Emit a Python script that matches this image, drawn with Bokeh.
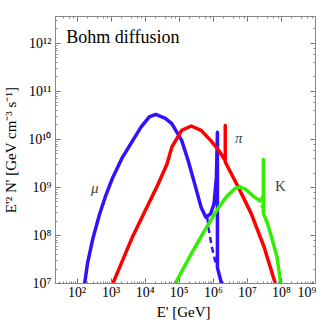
import numpy as np
from bokeh.plotting import figure
from bokeh.models import LogAxis, Range1d, CustomJSTickFormatter, Label
from bokeh.embed import file_html
from bokeh.resources import INLINE

# values (log10 of E' [GeV] and log10 of E'^2 N')
mu_logE = [2.22, 2.31, 2.46, 2.65, 2.84, 3.03, 3.31, 3.60, 3.88, 4.12, 4.31, 4.59, 4.78, 5.07, 5.26, 5.45, 5.64, 5.78, 5.92, 6.02, 6.09, 6.12, 6.12, 6.24]
mu_logY = [7.00, 7.44, 7.93, 8.42, 8.83, 9.18, 9.60, 9.94, 10.26, 10.47, 10.52, 10.44, 10.33, 9.98, 9.56, 9.08, 8.59, 8.38, 8.45, 8.66, 9.22, 10.15, 7.33, 7.00]
mu_dash_logE = [5.82, 5.86, 5.95, 6.07, 6.12]
mu_dash_logY = [8.38, 8.15, 7.78, 7.42, 7.33]

pi_logE = [3.05, 3.31, 3.60, 3.98, 4.36, 4.64, 4.78, 5.07, 5.35, 5.64, 5.92, 6.16, 6.35, 6.35, 6.35, 6.73, 7.11, 7.49, 7.82]
pi_logY = [7.00, 7.44, 7.93, 8.49, 9.04, 9.49, 9.84, 10.19, 10.28, 10.19, 9.98, 9.77, 9.56, 10.29, 9.53, 9.01, 8.46, 7.76, 7.00]

k_logE = [4.88, 5.30, 5.69, 6.16, 6.40, 6.64, 6.78, 6.95, 7.21, 7.35, 7.42, 7.47, 7.47, 7.47, 7.58, 7.68, 7.87, 7.98]
k_logY = [7.00, 7.55, 8.04, 8.59, 8.82, 8.98, 9.01, 8.96, 8.80, 8.73, 8.76, 8.83, 9.58, 8.46, 8.27, 8.04, 7.55, 7.00]
k_dash_logE = [7.35, 7.41, 7.47]
k_dash_logY = [8.73, 8.60, 8.46]

x_lo, x_hi = 10 ** 1.365, 1e9
y_lo, y_hi = 1e7, 10 ** 12.56

p = figure(width=316, height=323, x_axis_type="log", y_axis_type="log",
           x_range=Range1d(x_lo, x_hi), y_range=Range1d(y_lo, y_hi),
           output_backend="svg", toolbar_location=None,
           min_border_left=47, min_border_right=1, min_border_top=16, min_border_bottom=40)
p.xgrid.visible = False
p.ygrid.visible = False
p.outline_line_color = "#888888"
p.background_fill_color = "white"

fmt = CustomJSTickFormatter(code="""
const sup = {'0':'\u2070','1':'\u00b9','2':'\u00b2','3':'\u00b3','4':'\u2074','5':'\u2075','6':'\u2076','7':'\u2077','8':'\u2078','9':'\u2079','-':'\u207b'};
const e = Math.round(Math.log10(tick));
return '10' + String(e).split('').map(c => sup[c]).join('');
""")
blank = CustomJSTickFormatter(code="return '';")

def style(ax, labels=True):
    ax.major_tick_in = 5
    ax.major_tick_out = 0
    ax.minor_tick_in = 2
    ax.minor_tick_out = 0
    ax.axis_line_color = "#888888"
    ax.major_tick_line_color = "#666666"
    ax.minor_tick_line_color = "#888888"
    ax.major_label_text_font = "Liberation Serif"
    ax.major_label_text_font_size = "14px"
    ax.major_label_text_color = "black"
    ax.axis_label_text_font = "Liberation Serif"
    ax.axis_label_text_font_size = "14px"
    ax.axis_label_text_font_style = "normal"
    ax.axis_label_text_color = "black"
    if labels:
        ax.formatter = fmt
    else:
        ax.formatter = blank
        ax.major_label_text_font_size = "1px"
        ax.major_label_standoff = 0
        ax.axis_label_standoff = 0

for ax in p.xaxis:
    style(ax)
    ax.axis_label = "E'  [GeV]"
    ax.axis_label_text_font_size = "15px"
    ax.major_label_standoff = 1
    ax.axis_label_standoff = 1
for ax in p.yaxis:
    style(ax)
    ax.axis_label = "E'\u00b2 N' [GeV cm\u207b\u00b3 s\u207b\u00b9]"
    ax.axis_label_text_font_size = "15px"
    ax.major_label_standoff = 4
    ax.axis_label_standoff = 6

top = LogAxis()
style(top, labels=False)
p.add_layout(top, "above")
right = LogAxis()
style(right, labels=False)
p.add_layout(right, "right")

blue = "#3311ff"
red = "#ff0000"
green = "#33ee00"

def pw(a):
    return [10 ** v for v in a]

p.line(pw(mu_logE), pw(mu_logY), line_color=blue, line_width=3.5, line_join="round")
p.line(pw(mu_dash_logE), pw(mu_dash_logY), line_color=blue, line_width=2.5, line_dash="6 4")
p.line(pw(pi_logE), pw(pi_logY), line_color=red, line_width=3.5, line_join="round")
p.line(pw(k_logE), pw(k_logY), line_color=green, line_width=3.5, line_join="round")
p.line(pw(k_dash_logE), pw(k_dash_logY), line_color=green, line_width=1.5, line_dash="3 2")

p.add_layout(Label(x=10 ** 1.68, y=10 ** 12.13, text="Bohm diffusion", text_font="Liberation Serif",
                   text_font_size="18px", text_baseline="middle", text_color="black"))
p.add_layout(Label(x=10 ** 2.52, y=10 ** 8.99, text="\u03bc", text_font="Liberation Serif",
                   text_font_style="italic", text_font_size="15px", text_align="center",
                   text_baseline="middle"))
p.add_layout(Label(x=10 ** 6.75, y=10 ** 10.03, text="\u03c0", text_font="Liberation Serif",
                   text_font_style="italic", text_font_size="15px", text_align="center",
                   text_baseline="middle"))
p.add_layout(Label(x=10 ** 7.97, y=10 ** 9.02, text="K", text_font="Liberation Serif",
                   text_font_size="15px", text_align="center", text_baseline="middle"))

open("out.html", "w").write(file_html(p, INLINE))
